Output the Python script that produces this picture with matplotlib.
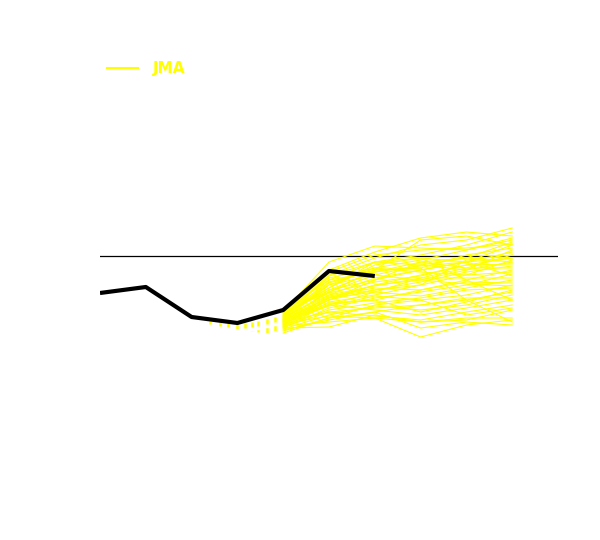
import numpy as np
import matplotlib
matplotlib.use("Agg")
from matplotlib import pyplot as plt
from matplotlib.lines import Line2D

# observed series (thick black line), steps 0..6
obs_x = [0, 1, 2, 3, 4, 5, 6]
obs_y = [-3.7, -3.1, -6.1, -6.7, -5.4, -1.5, -2.0]

# short dashed yellow marks below the observed line
dash_x = [2.4, 2.62, 2.79, 2.99, 3.17, 3.32, 3.45, 3.65, 3.82]
dash_top = [-6.5, -6.6, -6.7, -6.8, -6.7, -6.6, -6.5, -6.3, -6.1]
dash_bot = [-6.8, -7.0, -7.1, -7.3, -7.4, -7.5, -7.6, -7.7, -7.8]

# JMA ensemble members, steps 4..9
ens_x = [4, 5, 6, 7, 8, 9]
members = [
    [-5.6, -0.6, 1.0, 0.8, 0.6, 1.6],
    [-5.8, -1.4, 0.4, 1.8, 2.4, 2.0],
    [-6.0, -1.9, -0.2, 1.1, 1.6, 2.8],
    [-6.2, -2.4, -0.6, 0.1, 1.1, 2.4],
    [-6.4, -2.9, -1.2, -0.4, 0.6, 1.8],
    [-6.6, -3.4, -1.6, -0.6, -0.2, 1.4],
    [-5.9, -3.2, -0.9, -0.2, -0.6, 1.1],
    [-6.1, -2.6, -1.4, -1.2, 0.1, 0.8],
    [-6.3, -3.6, -1.9, -0.9, -1.4, 0.6],
    [-6.5, -3.9, -2.2, -1.4, -0.6, 0.4],
    [-6.7, -4.4, -2.4, -0.6, -1.2, 0.1],
    [-6.9, -4.2, -2.9, -1.9, -0.9, -0.2],
    [-5.7, -2.2, -1.2, -1.6, -1.9, -0.4],
    [-6.0, -2.9, -1.9, -2.4, -1.4, -0.6],
    [-6.2, -3.7, -2.6, -2.0, -0.9, -0.8],
    [-6.4, -4.4, -3.4, -2.6, -1.6, -1.0],
    [-6.6, -4.9, -3.6, -2.2, -1.2, -1.2],
    [-6.8, -4.0, -3.2, -3.4, -2.4, -1.4],
    [-7.0, -4.6, -3.9, -2.9, -1.9, -1.6],
    [-7.2, -5.2, -4.2, -3.6, -2.9, -1.8],
    [-5.8, -3.4, -2.4, -1.4, -0.6, -2.0],
    [-6.1, -3.9, -3.0, -2.2, -2.2, -2.2],
    [-6.3, -4.2, -3.6, -4.0, -3.2, -2.4],
    [-6.5, -4.7, -4.4, -3.4, -2.6, -2.7],
    [-6.7, -5.0, -4.0, -4.4, -3.9, -2.9],
    [-6.9, -5.4, -4.7, -4.2, -3.4, -3.2],
    [-7.1, -5.6, -5.2, -4.9, -4.4, -3.6],
    [-7.3, -5.9, -5.0, -5.4, -4.9, -3.9],
    [-7.5, -6.2, -5.6, -4.9, -4.2, -4.2],
    [-6.4, -4.9, -5.4, -5.9, -5.2, -4.4],
    [-6.6, -5.6, -6.0, -6.4, -5.6, -4.9],
    [-6.8, -6.0, -6.2, -6.6, -6.4, -5.4],
    [-7.0, -6.6, -6.2, -8.1, -6.9, -6.4],
    [-7.2, -7.1, -5.9, -6.6, -6.2, -6.2],
    [-7.4, -6.4, -5.6, -7.2, -6.6, -6.9],
    [-7.7, -6.2, -4.9, -4.4, -5.9, -5.2],
    [-5.6, -3.6, -1.4, -1.2, -4.4, -6.6],
    [-5.9, -3.2, -0.6, -0.2, -2.4, -4.4],
    [-6.2, -2.0, -0.6, -0.9, -0.2, -0.6],
    [-6.0, -1.6, 0.1, 0.6, 0.8, 1.2],
    [-6.3, -2.7, -1.4, 1.6, 2.0, 1.1],
    [-6.5, -4.1, -3.4, -2.9, -0.4, 0.1],
    [-6.8, -4.4, -2.9, -2.4, -2.8, -3.0],
    [-7.1, -4.8, -4.4, -5.6, -4.6, -3.4],
    [-5.5, -2.4, -1.6, -1.0, -0.6, -0.2],
]

fig = plt.figure(figsize=(6, 5.4), dpi=100)
ax = fig.add_axes([100/600, 0, 458/600, 1])
ax.set_xlim(0, 10)
ax.set_ylim(-28.4, 25.6)
ax.axis("off")

ax.axhline(0, color="black", lw=0.9)

for m in members:
    ax.plot(ens_x, m, color="#ffff00", lw=0.8)

for x, t, b in zip(dash_x, dash_top, dash_bot):
    ax.plot([x, x], [t, b], color="#ffff00", lw=1.8, linestyle=(0, (2, 1.5)))

ax.plot(obs_x, obs_y, color="black", lw=3, solid_capstyle="butt")

handle = Line2D([], [], color="#ffff00", lw=1.5)
leg = fig.legend([handle], ["JMA"], loc="center left",
                 bbox_to_anchor=(107/600, 1 - 69/540),
                 frameon=False, borderpad=0, borderaxespad=0,
                 handlelength=2.0, handletextpad=1.0,
                 prop={"weight": "bold", "size": 11})
for t in leg.get_texts():
    t.set_color("#ffff00")

fig.savefig("out.png", dpi=100, facecolor="white")
